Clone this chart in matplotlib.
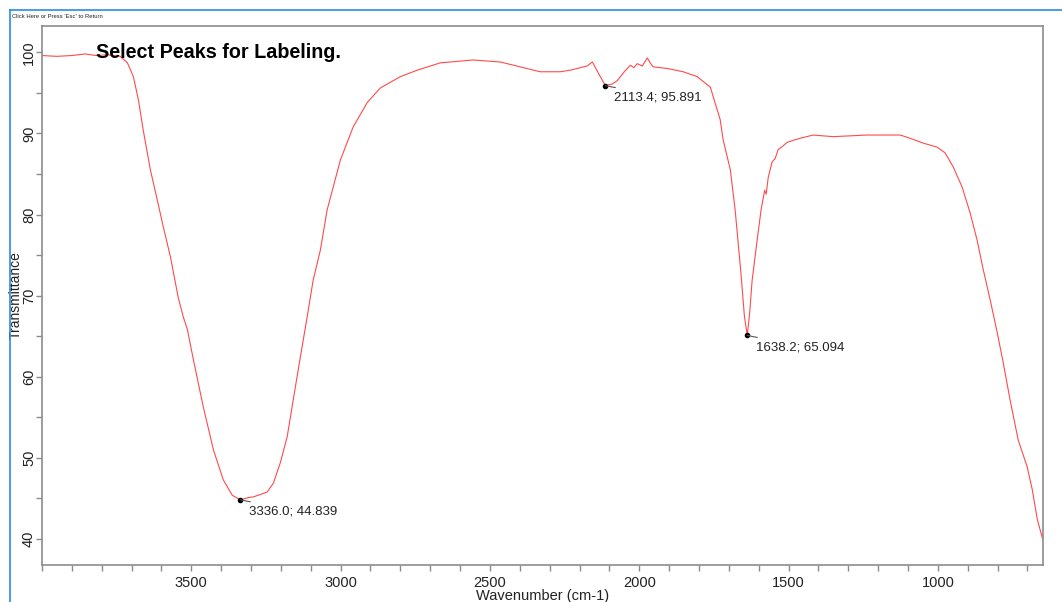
import matplotlib
matplotlib.use("Agg")
import matplotlib.pyplot as plt
from matplotlib.ticker import MultipleLocator, FixedLocator
from matplotlib.lines import Line2D

plt.rcParams['font.family'] = ['Liberation Sans', 'DejaVu Sans']

wavenumber = [4000, 3950, 3900, 3855, 3820, 3780, 3738, 3714, 3694, 3677, 3661, 3637,
              3614, 3594, 3570, 3544, 3527, 3513, 3493, 3460, 3426, 3393, 3363, 3336,
              3310, 3292, 3268, 3246, 3225, 3202, 3179, 3159, 3135, 3112, 3092, 3068,
              3045, 3001, 2958, 2911, 2867, 2800, 2743, 2666, 2556, 2465, 2398, 2332,
              2265, 2230, 2198, 2175, 2157, 2135, 2113.4, 2090, 2074, 2050, 2030, 2018,
              2007, 1990, 1973, 1960, 1953, 1906, 1853, 1806, 1762, 1729, 1719, 1695,
              1679, 1660, 1648, 1638.2, 1630, 1622, 1605, 1592, 1580, 1575, 1568, 1555,
              1545, 1535, 1520, 1505, 1480, 1461, 1418, 1351, 1237, 1126, 1093, 1049,
              1002, 976, 949, 919, 892, 869, 848, 825, 801, 781, 758, 731, 701, 684,
              667, 650]
transmittance = [99.6, 99.5, 99.6, 99.8, 99.6, 99.7, 99.5, 98.7, 97.0, 94.1, 90.4, 85.5,
                 81.8, 78.5, 74.8, 69.8, 67.4, 65.8, 62.1, 56.3, 51.0, 47.3, 45.4, 44.839,
                 45.1, 45.2, 45.5, 45.8, 46.9, 49.4, 52.6, 57.1, 62.4, 67.4, 71.9, 75.6,
                 80.6, 86.7, 90.8, 93.8, 95.6, 97.0, 97.8, 98.7, 99.05, 98.8, 98.2, 97.6,
                 97.6, 97.8, 98.1, 98.3, 98.8, 97.3, 95.891, 96.1, 96.5, 97.6, 98.4, 98.1,
                 98.6, 98.3, 99.3, 98.5, 98.2, 98.0, 97.6, 97.0, 95.7, 91.7, 89.2, 85.5,
                 80.6, 73.0, 67.5, 65.094, 68.0, 71.9, 76.9, 80.6, 83.0, 82.5, 84.6, 86.5,
                 86.9, 88.0, 88.4, 88.9, 89.2, 89.4, 89.8, 89.6, 89.8, 89.8, 89.4, 88.8,
                 88.3, 87.6, 85.9, 83.4, 80.2, 76.9, 73.2, 69.5, 65.4, 61.7, 57.1, 52.2,
                 48.9, 46.1, 42.4, 40.1]

peak_x = [3336.0, 2113.4, 1638.2]
peak_y = [44.839, 95.891, 65.094]
peak_labels = ["3336.0; 44.839", "2113.4; 95.891", "1638.2; 65.094"]

W, H = 1062, 602
fig = plt.figure(figsize=(W / 100, H / 100), dpi=100)

# window frame
fig.add_artist(Line2D([10 / W, 1], [1 - 10 / H, 1 - 10 / H], color='#2b8ce0', lw=1.2))
fig.add_artist(Line2D([10 / W, 10 / W], [0, 1 - 10 / H], color='#2b8ce0', lw=1.2))
fig.text(12 / W, 1 - 17 / H, "Click Here or Press 'Esc' to Return", fontsize=4.2,
         ha='left', va='center', color='#222222')

ax = fig.add_axes([42 / W, 1 - 565 / H, (1043 - 42) / W, (565 - 26) / H])
ax.plot(wavenumber, transmittance, color='#ff4a4a', lw=0.8)
ax.set_xlim(4000, 648)
ax.set_ylim(36.8, 103.24)

ax.xaxis.set_major_locator(FixedLocator([3500, 3000, 2500, 2000, 1500, 1000]))
ax.xaxis.set_minor_locator(MultipleLocator(100))
ax.yaxis.set_major_locator(MultipleLocator(10))
ax.yaxis.set_minor_locator(MultipleLocator(5))

for s in ['top', 'right', 'left', 'bottom']:
    ax.spines[s].set_color('#8c8c8c')
    ax.spines[s].set_linewidth(1.2)
ax.tick_params(which='both', direction='out', color='#8c8c8c', width=1.0, length=4.3)
ax.tick_params(axis='x', which='major', labelsize=10.5, pad=3.5, labelcolor='#222222')
ax.tick_params(axis='y', which='major', labelsize=10.5, pad=0, labelcolor='#222222')
ax.tick_params(which='minor', labelbottom=False, labelleft=False)
for lab in ax.get_yticklabels():
    lab.set_rotation(90)
    lab.set_va('center')

ax.set_xlabel("Wavenumber (cm-1)", fontsize=10.5, color='#222222')
ax.xaxis.set_label_coords(0.5, -31 / 539, transform=ax.transAxes)
ax.xaxis.label.set_va('center')
ax.set_ylabel("Transmittance", fontsize=10, color='#222222')
ax.yaxis.set_label_coords(-26.5 / 1001, 0.5, transform=ax.transAxes)
ax.yaxis.label.set_va('center')

ax.text(96 / W, 1 - 52 / H, "Select Peaks for Labeling.", transform=fig.transFigure,
        fontsize=14.2, fontweight='bold', ha='left', va='center', color='black')

for px, py, lab in zip(peak_x, peak_y, peak_labels):
    ax.plot([px], [py], 'o', color='black', ms=3)
    ax.annotate(lab, xy=(px, py), xytext=(9, -6), textcoords='offset pixels',
                ha='left', va='top', fontsize=9.5, color='#222222')
    ax.annotate("", xy=(px, py), xytext=(10, -2), textcoords='offset pixels',
                arrowprops=dict(arrowstyle='-', color='#555555', lw=0.8,
                                shrinkA=0, shrinkB=0))

fig.savefig("out.png", dpi=100)
